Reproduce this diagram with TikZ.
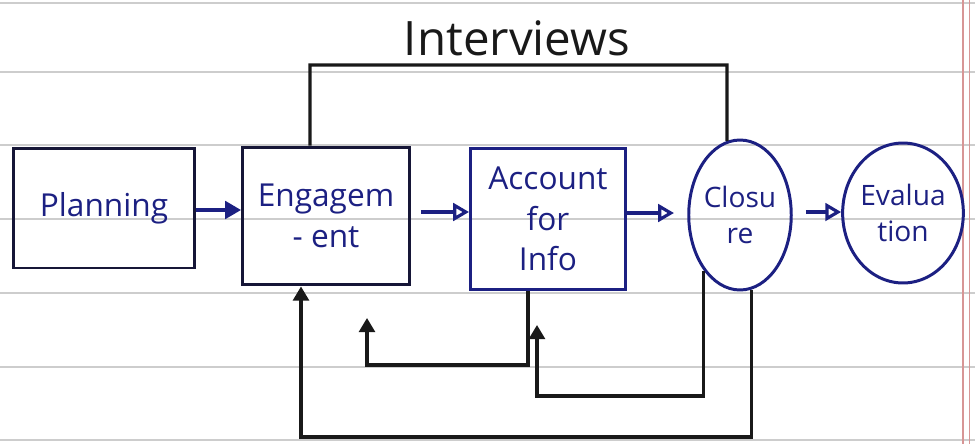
\documentclass[tikz,border=0pt]{standalone}
\usepackage{fontspec}
\setmainfont{Open Sans}
\usetikzlibrary{arrows.meta,shapes.geometric}
\definecolor{ink}{RGB}{28,32,130}
\definecolor{darkink}{RGB}{22,22,55}
\definecolor{rule}{RGB}{205,205,205}
\definecolor{margin}{RGB}{215,150,150}
\begin{document}
\begin{tikzpicture}[x=0.02cm,y=-0.02cm,
  box/.style={draw=darkink,line width=1.7pt,rectangle,inner sep=0pt,text=ink,align=center,font=\fontsize{18}{23}\selectfont},
  oval/.style={draw=ink,line width=1.7pt,ellipse,inner sep=0pt,text=ink,align=center,font=\fontsize{16}{21}\selectfont},
  flow/.style={draw=ink,line width=1.8pt,-{Triangle[open,length=9pt,width=10pt]}},
  fb/.style={draw=black!90,line width=1.8pt},
  fbarrow/.style={fb,-{Triangle[length=8pt,width=9pt]}}]
\useasboundingbox (0,0) rectangle (975,444);
% lined paper
\foreach \yy in {3,72,145,219,293,367,440}{\draw[rule,line width=0.6pt] (0,\yy) -- (975,\yy);}
\draw[margin,line width=0.7pt] (963,0) -- (963,444);
\draw[margin,line width=0.4pt] (969,0) -- (969,444);
% nodes
\node[box,minimum width=3.62cm,minimum height=2.4cm] (pla) at (104,208) {Planning};
\node[box,minimum width=3.34cm,minimum height=2.76cm] (eng) at (326,216) {Engagem\\- ent};
\node[box,draw=ink,minimum width=3.1cm,minimum height=2.84cm] (acc) at (548,219) {Account\\for\\Info};
\node[oval,minimum width=1.9cm,minimum height=3.0cm] (clo) at (740,215) {Closu\\re};
\node[oval,minimum width=2.06cm,minimum height=2.8cm] (eva) at (903,213) {Evalua\\tion};
\node[font=\fontsize{27}{30}\selectfont,text=black!90] (int) at (517,38) {Interviews};
% forward arrows
\draw[ink,line width=1.8pt,-{Triangle[length=9pt,width=10pt]}] (pla.east |- 0,210) -- (eng.west |- 0,210);
\draw[flow] ([xshift=0.2cm]eng.east |- 0,212) -- (acc.west |- 0,212);
\draw[flow] (acc.east |- 0,213) -- ++(47,0);
\draw[flow] ([xshift=0.26cm]clo.east |- 0,212) -- (eva.west |- 0,212);
% interviews bracket
\coordinate (i1) at (310,65);
\coordinate (i2) at (727,65);
\draw[fb] (i1 |- eng.north) -- (i1) -- (i2) -- (clo.100);
% feedback loops
\coordinate (f1) at (528,365);
\coordinate (t1) at (367,318);
\draw[fbarrow] (f1 |- acc.south) -- (f1) -| (t1);
\coordinate (c2) at (537,396);
\coordinate (t2) at (537,325);
\draw[fbarrow] (clo.237) |- (c2) -- (t2);
\coordinate (c3) at (301,437);
\draw[fbarrow] (clo.279) |- (c3) -- (c3 |- eng.south);
\end{tikzpicture}
\end{document}
